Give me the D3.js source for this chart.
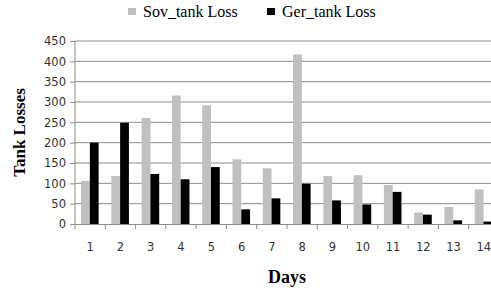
<!DOCTYPE html>
<html>
<head>
<script src="https://d3js.org/d3.v7.min.js"></script>
<style>
  body { margin: 0; background: #fff; }
  .tick text { font-family: "DejaVu Sans", Verdana, sans-serif; font-size: 11.5px; fill: #333; }
</style>
</head>
<body>
<svg width="491" height="292"></svg>
<script>
// chart values
const days = ["1","2","3","4","5","6","7","8","9","10","11","12","13","14"];
const series = ["Sov_tank Loss", "Ger_tank Loss"];
const sovLoss = [106, 118, 261, 316, 292, 159, 137, 417, 118, 120, 96, 28, 42, 85];
const gerLoss = [200, 249, 123, 110, 140, 36, 63, 99, 58, 48, 79, 23, 9, 6];
const yTicks = [0, 50, 100, 150, 200, 250, 300, 350, 400, 450];
const colors = ["#c0c0c0", "#000000"];

const rows = days.map((d, i) => ({day: d, vals: [sovLoss[i], gerLoss[i]]}));

const svg = d3.select("svg");
const m = {left: 75, top: 41, bottom: 68};
const W = 424, H = 292 - m.top - m.bottom;

const x = d3.scaleBand().domain(days).range([0, W]);
const x1 = d3.scaleBand().domain(series)
  .range([x.bandwidth() * 0.2, x.bandwidth() * 0.78]);
const y = d3.scaleLinear().domain([0, 450]).range([H, 0]);

const g = svg.append("g").attr("transform", `translate(${m.left},${m.top})`);

// gridlines
g.append("g").selectAll("line").data(yTicks.slice(1)).join("line")
  .attr("x1", 0).attr("x2", W)
  .attr("y1", d => y(d)).attr("y2", d => y(d))
  .attr("stroke", "#8c8c8c").attr("stroke-width", 1);

// bars
const grp = g.append("g").selectAll("g").data(rows).join("g")
  .attr("transform", d => `translate(${x(d.day)},0)`);
grp.selectAll("rect").data(d => d.vals.map((v, i) => ({k: series[i], v, i}))).join("rect")
  .attr("x", d => x1(d.k))
  .attr("width", x1.bandwidth())
  .attr("y", d => y(d.v))
  .attr("height", d => H - y(d.v))
  .attr("fill", d => colors[d.i]);

// y axis
const ya = g.append("g")
  .call(d3.axisLeft(y).tickValues(yTicks).tickSize(5).tickPadding(4));
ya.selectAll("line, path").attr("stroke", "#8c8c8c");
ya.select(".domain").attr("d", `M0,${y(450)}V${H}`);

// x axis
const xa = g.append("g").attr("transform", `translate(0,${H})`)
  .call(d3.axisBottom(x).tickSize(0).tickPadding(19));
xa.select(".domain").attr("stroke", "#8c8c8c");
xa.append("g").selectAll("line").data(days).join("line")
  .attr("x1", d => x(d)).attr("x2", d => x(d))
  .attr("y1", 0).attr("y2", 5)
  .attr("stroke", "#8c8c8c");

// axis titles
svg.append("text")
  .attr("transform", `translate(25,${m.top + H / 2}) rotate(-90)`)
  .attr("text-anchor", "middle")
  .style("font-family", "'Liberation Serif', 'Times New Roman', serif")
  .style("font-weight", "bold").style("font-size", "17px")
  .text("Tank Losses");
svg.append("text")
  .attr("x", 287).attr("y", 283)
  .attr("text-anchor", "middle")
  .style("font-family", "'Liberation Serif', 'Times New Roman', serif")
  .style("font-weight", "bold").style("font-size", "18px")
  .text("Days");

// legend
const legX = [128, 267];
const leg = svg.append("g").selectAll("g").data(series).join("g")
  .attr("transform", (d, i) => `translate(${legX[i]},0)`);
leg.append("rect").attr("x", 0).attr("y", 8).attr("width", 8).attr("height", 7)
  .attr("fill", (d, i) => colors[i]);
leg.append("text").attr("x", 15).attr("y", 17)
  .style("font-family", "'Liberation Serif', 'Times New Roman', serif")
  .style("font-size", "16px").attr("fill", "#000")
  .text(d => d);
</script>
</body>
</html>
